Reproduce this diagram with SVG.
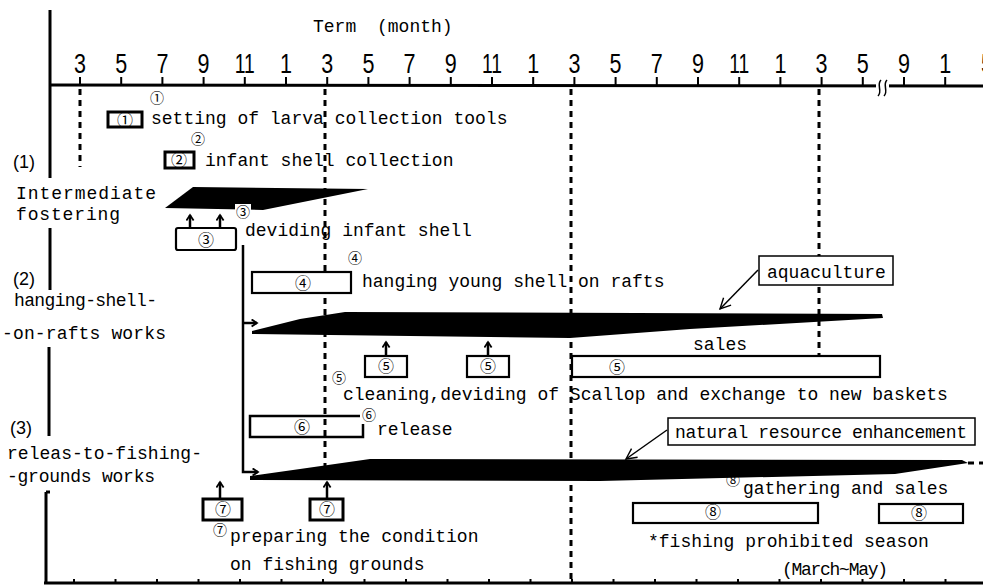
<svg xmlns="http://www.w3.org/2000/svg" width="983" height="586" viewBox="0 0 983 586">
<style>
.t{font-family:"Liberation Mono","DejaVu Sans Mono",monospace;font-size:18px;fill:#000}
.n{font-family:"Liberation Sans",Arial,sans-serif;font-size:27px;fill:#000;text-anchor:middle}
.c{font-family:"Noto Sans CJK JP","DejaVu Sans",sans-serif;font-size:16px;fill:#000;text-anchor:middle}
.s{font-size:14px}
.p{font-family:"Liberation Sans",Arial,sans-serif;font-size:18px;fill:#000}
.box{fill:#fff;stroke:#000;stroke-width:2.2}
.tb{fill:#fff;stroke:#000;stroke-width:3}
.lb{fill:#fff;stroke:#000;stroke-width:1.5}
.ax{stroke:#000;stroke-width:3;fill:none}
.tk{stroke:#000;stroke-width:2;fill:none}
.dash{stroke:#000;stroke-width:3;stroke-dasharray:6 5;fill:none}
.bar{fill:#000}
.ln{stroke:#000;stroke-width:2.5;fill:none}
.thin{stroke:#000;stroke-width:1.5;fill:none}
</style>
<defs>
<marker id="ah" viewBox="0 0 10 10" refX="8" refY="5" markerWidth="9" markerHeight="9" orient="auto" markerUnits="userSpaceOnUse">
<path d="M2,1 L8,5 L2,9" fill="none" stroke="#000" stroke-width="2"/>
</marker>
<marker id="al" viewBox="0 0 16 16" refX="14" refY="8" markerWidth="14" markerHeight="14" orient="auto" markerUnits="userSpaceOnUse">
<path d="M2,2 L14,8 L2,14" fill="none" stroke="#000" stroke-width="1.6"/>
</marker>
</defs>
<rect width="983" height="586" fill="#fff"/>

<g id="axes">
<text class="t" x="313" y="32">Term <tspan x="377">(month)</tspan></text>
<line class="ax" x1="50" y1="85" x2="983" y2="86"/>
<g class="tk">
<path d="M80,77V86M121.2,77V86M162.4,77V86M203.6,77V86M244.8,77V86M286,77V86M327.2,77V86M368.4,77V86M409.6,77V86M450.8,77V86M492,77V86M533.2,77V86M574.4,77V86M615.6,77V86M656.8,77V86M698,77V86M739.2,77V86M780.4,77V86M821.6,77V86M862.8,77V86M904,77V86M945.2,77V86"/>
</g>
<rect x="876" y="80" width="13" height="12" fill="#fff"/>
<path class="thin" d="M878,96 C883,91 876,85 881,80 M884,96 C889,91 882,85 887,80" stroke-width="2"/>
<g>
<text class="n" x="80" y="73" textLength="12" lengthAdjust="spacingAndGlyphs">3</text>
<text class="n" x="121.2" y="73" textLength="12" lengthAdjust="spacingAndGlyphs">5</text>
<text class="n" x="162.4" y="73" textLength="12" lengthAdjust="spacingAndGlyphs">7</text>
<text class="n" x="203.6" y="73" textLength="12" lengthAdjust="spacingAndGlyphs">9</text>
<text class="n" x="244.8" y="73" textLength="20" lengthAdjust="spacingAndGlyphs">11</text>
<text class="n" x="286" y="73" textLength="12" lengthAdjust="spacingAndGlyphs">1</text>
<text class="n" x="327.2" y="73" textLength="12" lengthAdjust="spacingAndGlyphs">3</text>
<text class="n" x="368.4" y="73" textLength="12" lengthAdjust="spacingAndGlyphs">5</text>
<text class="n" x="409.6" y="73" textLength="12" lengthAdjust="spacingAndGlyphs">7</text>
<text class="n" x="450.8" y="73" textLength="12" lengthAdjust="spacingAndGlyphs">9</text>
<text class="n" x="492" y="73" textLength="20" lengthAdjust="spacingAndGlyphs">11</text>
<text class="n" x="533.2" y="73" textLength="12" lengthAdjust="spacingAndGlyphs">1</text>
<text class="n" x="574.4" y="73" textLength="12" lengthAdjust="spacingAndGlyphs">3</text>
<text class="n" x="615.6" y="73" textLength="12" lengthAdjust="spacingAndGlyphs">5</text>
<text class="n" x="656.8" y="73" textLength="12" lengthAdjust="spacingAndGlyphs">7</text>
<text class="n" x="698" y="73" textLength="12" lengthAdjust="spacingAndGlyphs">9</text>
<text class="n" x="739.2" y="73" textLength="20" lengthAdjust="spacingAndGlyphs">11</text>
<text class="n" x="780.4" y="73" textLength="12" lengthAdjust="spacingAndGlyphs">1</text>
<text class="n" x="821.6" y="73" textLength="12" lengthAdjust="spacingAndGlyphs">3</text>
<text class="n" x="862.8" y="73" textLength="12" lengthAdjust="spacingAndGlyphs">5</text>
<text class="n" x="904" y="73" textLength="12" lengthAdjust="spacingAndGlyphs">9</text>
<text class="n" x="945.2" y="73" textLength="12" lengthAdjust="spacingAndGlyphs">1</text>
<text class="n" x="987" y="73" textLength="12" lengthAdjust="spacingAndGlyphs">5</text>
</g>
<line class="ax" x1="44" y1="583" x2="983" y2="583"/>
<path class="tk" d="M74,579V583M115.5,579V583M157,579V583M198.5,579V583M240,579V583M281.5,579V583M323,579V583M364.5,579V583M406,579V583M447.5,579V583M489,579V583M530.5,579V583M572,579V583M613.5,579V583M655,579V583M696.5,579V583M738,579V583M779.5,579V583M821,579V583M862.5,579V583M904,579V583M945.5,579V583"/>
<path class="ax" d="M50,10V178M50,228V290M49,347V436M46,492V583M46,492H50"/>
<path class="dash" d="M80,89V167M325,89V470M571,89V580M819,89V355"/>
</g>

<g id="row-labels">
<text class="p" x="13" y="168">(1)</text>
<text class="t" x="16" y="199" textLength="140">Intermediate</text>
<text class="t" x="16" y="220" textLength="104">fostering</text>
<text class="p" x="13" y="285">(2)</text>
<text class="t" x="14" y="306" textLength="143">hanging-shell-</text>
<text class="t" x="2" y="339" textLength="164">-on-rafts works</text>
<text class="p" x="10" y="434">(3)</text>
<text class="t" x="7" y="459" textLength="195">releas-to-fishing-</text>
<text class="t" x="7" y="482" textLength="148">-grounds works</text>
</g>

<g id="bars">
<polygon class="bar" points="165,208 193,187 368,189 263,210"/>
<polygon class="bar" points="252,331 300,319 345,312 882,314 883,318 690,329 570,338 330,335 252,334"/>
<polygon class="bar" points="250,476 300,469 370,459 962,460 968,463 895,474 600,481 250,480"/>
<path class="dash" d="M968,463H983" stroke-dasharray="3 3"/>
</g>

<g id="node-1">
<rect class="tb" x="108" y="112" width="34" height="15"/>
<text class="c" x="125" y="126">①</text>
<text class="c s" x="157" y="103">①</text>
<text class="t" x="151" y="124">setting of larva collection tools</text>
</g>
<g id="node-2">
<rect class="tb" x="165" y="152" width="29" height="16"/>
<text class="c" x="179" y="166">②</text>
<text class="c s" x="198" y="144" font-size="13">②</text>
<text class="t" x="205" y="166">infant shell collection</text>
</g>
<g id="node-3">
<rect class="box" x="176" y="228" width="60" height="22" rx="2"/>
<text class="c" x="206" y="246">③</text>
<rect x="235" y="204" width="16" height="16" fill="#fff"/>
<text class="c s" x="243" y="217">③</text>
<text class="t" x="245" y="236">deviding infant shell</text>
</g>
<g id="node-4">
<rect class="box" x="252" y="272" width="99" height="21"/>
<text class="c" x="303" y="289">④</text>
<text class="c s" x="355" y="263">④</text>
<text class="t" x="362" y="287">hanging young shell on rafts</text>
</g>
<g id="node-aquaculture">
<rect class="lb" x="759" y="256" width="134" height="29"/>
<text class="t" x="767" y="278">aquaculture</text>
</g>
<g id="node-sales">
<text class="t" x="693" y="350">sales</text>
</g>
<g id="node-5">
<rect class="box" x="365" y="356" width="42" height="21"/>
<text class="c" x="386" y="372">⑤</text>
<rect class="box" x="467" y="356" width="42" height="21"/>
<text class="c" x="488" y="372">⑤</text>
<rect class="box" x="572" y="356" width="308" height="21"/>
<text class="c" x="617" y="373">⑤</text>
<text class="c s" x="339" y="383">⑤</text>
<text class="t" x="343" y="400">cleaning,deviding of Scallop and exchange to new baskets</text>
</g>
<g id="node-6">
<path class="ln" d="M360,416H250V437H363V424" stroke-width="2.2" fill="#fff"/>
<text class="c" x="302" y="433">⑥</text>
<text class="c s" x="369" y="420">⑥</text>
<text class="t" x="377" y="435">release</text>
</g>
<g id="node-natural">
<rect class="lb" x="668" y="418" width="307" height="27"/>
<text class="t" x="675" y="438" textLength="292">natural resource enhancement</text>
</g>
<g id="node-7">
<rect class="tb" x="203" y="499" width="39" height="21"/>
<text class="c" x="223" y="515">⑦</text>
<rect class="tb" x="310" y="499" width="33" height="21"/>
<text class="c" x="327" y="515">⑦</text>
<text class="c s" x="220" y="535" font-size="13">⑦</text>
<text class="t" x="230" y="542">preparing the condition</text>
<text class="t" x="230" y="570">on fishing grounds</text>
</g>
<g id="node-8">
<text class="c s" x="733" y="485">⑧</text>
<text class="t" x="743" y="494">gathering and sales</text>
<rect class="box" x="633" y="503" width="185" height="20"/>
<text class="c" x="713" y="518">⑧</text>
<rect class="box" x="879" y="504" width="84" height="19"/>
<text class="c" x="919" y="519">⑧</text>
<text class="t" x="648" y="547">*fishing prohibited season</text>
<text class="t" x="782" y="575" textLength="106">(March~May)</text>
</g>

<g id="connectors">
<path class="ln" d="M190,228V215" marker-end="url(#ah)"/>
<path class="ln" d="M220,228V215" marker-end="url(#ah)"/>
<path class="ln" d="M243,245V472H258" marker-end="url(#ah)"/>
<path class="ln" d="M243,323H257" marker-end="url(#ah)"/>
<path class="ln" d="M386,356V342" marker-end="url(#ah)"/>
<path class="ln" d="M488,356V342" marker-end="url(#ah)"/>
<path class="ln" d="M220,499V482" marker-end="url(#ah)"/>
<path class="ln" d="M327,499V482" marker-end="url(#ah)"/>
<line class="thin" x1="758" y1="270" x2="720" y2="309" marker-end="url(#al)"/>
<line class="thin" x1="667" y1="430" x2="626" y2="459" marker-end="url(#al)"/>
</g>
</svg>
